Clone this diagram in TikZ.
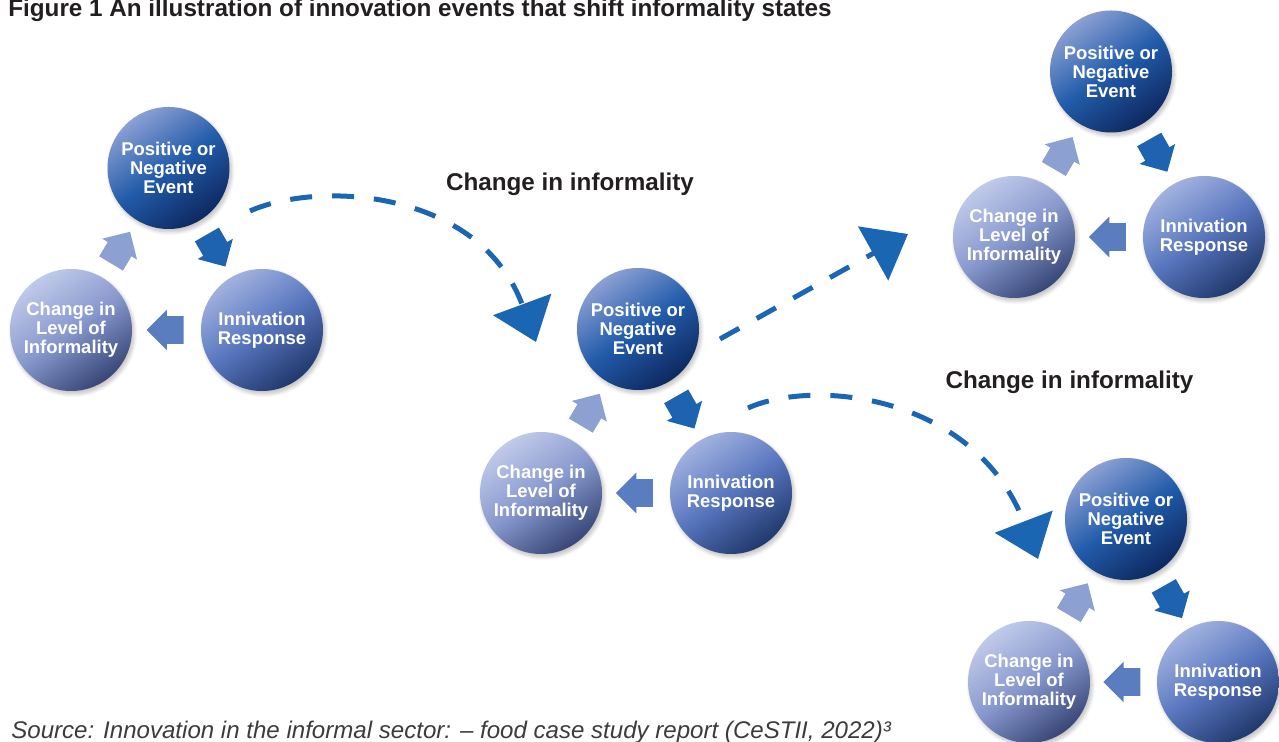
\documentclass[tikz,border=0pt]{standalone}
\usepackage{fontspec}
\setmainfont{Liberation Sans}
\usetikzlibrary{arrows.meta,shapes.arrows,shadows.blur}

\definecolor{flowblue}{RGB}{27,102,178}
\definecolor{upblue}{RGB}{140,160,210}
\definecolor{downblue}{RGB}{29,99,176}
\definecolor{backblue}{RGB}{90,125,192}
\definecolor{captiongray}{RGB}{35,31,32}
\definecolor{sourcegray}{RGB}{60,60,60}

\tikzset{
  bubble/.style={circle,minimum size=2.44cm,inner sep=0pt,align=center,text=white,
    font=\fontsize{10.5}{10.8}\selectfont\bfseries,
    blur shadow={shadow xshift=0.04cm,shadow yshift=-0.06cm,shadow blur steps=8,shadow opacity=25}},
  eventball/.style={bubble,top color={rgb,255:red,140;green,160;blue,212},
    bottom color={rgb,255:red,14;green,40;blue,96},
    middle color={rgb,255:red,34;green,92;blue,170},shading angle=35},
  changeball/.style={bubble,top color={rgb,255:red,192;green,202;blue,234},
    bottom color={rgb,255:red,55;green,70;blue,118},
    middle color={rgb,255:red,135;green,152;blue,205},shading angle=35},
  respball/.style={bubble,top color={rgb,255:red,162;green,178;blue,224},
    bottom color={rgb,255:red,32;green,56;blue,108},
    middle color={rgb,255:red,88;green,118;blue,190},shading angle=35},
  blockarr/.style={single arrow,draw=none,minimum height=0.74cm,
    inner xsep=0pt,inner ysep=0.27cm,single arrow head extend=0.13cm,
    sloped,allow upside down,pos=0.42},
  shiftarrow/.style={flowblue,line width=0.1cm,dash pattern=on 0.44cm off 0.4cm,
    -{Triangle[width=1.22cm,length=0.8cm]}},
  caption/.style={font=\fontsize{13.8}{16}\selectfont\bfseries,text=captiongray,inner sep=0pt}
}

\begin{document}
\begin{tikzpicture}
	\useasboundingbox (0,0) rectangle (25.58,14.84);
	\node[caption,anchor=base west] (title) at (0.16,14.50) {Figure 1 An illustration of innovation events that shift informality states};
	% first cycle
	\node[eventball] (e1) at (3.37,11.48) {Positive or\\Negative\\Event};
	\node[changeball] (c1) at (1.42,8.24) {Change in\\Level of\\Informality};
	\node[respball] (r1) at (5.24,8.24) {Innivation\\Response};
	% second cycle
	\node[eventball] (e2) at (12.76,8.26) {Positive or\\Negative\\Event};
	\node[changeball] (c2) at (10.82,4.98) {Change in\\Level of\\Informality};
	\node[respball] (r2) at (14.62,4.98) {Innivation\\Response};
	% upper right cycle
	\node[eventball] (e3) at (22.22,13.41) {Positive or\\Negative\\Event};
	\node[changeball] (c3) at (20.28,10.10) {Change in\\Level of\\Informality};
	\node[respball] (r3) at (24.08,10.10) {Innivation\\Response};
	% lower right cycle
	\node[eventball] (e4) at (22.52,4.46) {Positive or\\Negative\\Event};
	\node[changeball] (c4) at (20.58,1.20) {Change in\\Level of\\Informality};
	\node[respball] (r4) at (24.36,1.20) {Innivation\\Response};
	% block arrows round each cycle
	\path (c1) -- node[blockarr,fill=upblue] {} (e1);
	\path (e1) -- node[blockarr,fill=downblue] {} (r1);
	\path (r1) -- node[blockarr,fill=backblue] {} (c1);
	\path (c2) -- node[blockarr,fill=upblue] {} (e2);
	\path (e2) -- node[blockarr,fill=downblue] {} (r2);
	\path (r2) -- node[blockarr,fill=backblue] {} (c2);
	\path (c3) -- node[blockarr,fill=upblue] {} (e3);
	\path (e3) -- node[blockarr,fill=downblue] {} (r3);
	\path (r3) -- node[blockarr,fill=backblue] {} (c3);
	\path (c4) -- node[blockarr,fill=upblue] {} (e4);
	\path (e4) -- node[blockarr,fill=downblue] {} (r4);
	\path (r4) -- node[blockarr,fill=backblue] {} (c4);
	% shifts between cycles
	\coordinate (s1) at (5.00,10.62);
	\coordinate (t1) at (10.72,8.00);
	\coordinate (s2) at (14.40,8.06);
	\coordinate (t2) at (18.16,10.16);
	\coordinate (s3) at (14.96,6.68);
	\coordinate (t3) at (20.76,3.66);
	\draw[shiftarrow] (s1) .. controls (6.40,11.24) and (9.60,11.04) .. (t1);
	\draw[shiftarrow] (s2) -- (t2);
	\draw[shiftarrow] (s3) .. controls (16.30,7.28) and (19.50,6.94) .. (t3);
	\node[caption,anchor=base] (lab1) at (11.40,11.03) {Change in informality};
	\node[caption,anchor=base] (lab2) at (21.39,7.07) {Change in informality};
	\node[anchor=base west,inner sep=0pt,font=\fontsize{13.7}{16}\selectfont\itshape,text=sourcegray] (src) at (0.22,0.07) {Source: Innovation in the informal sector: – food case study report (CeSTII, 2022)³};
\end{tikzpicture}
\end{document}
